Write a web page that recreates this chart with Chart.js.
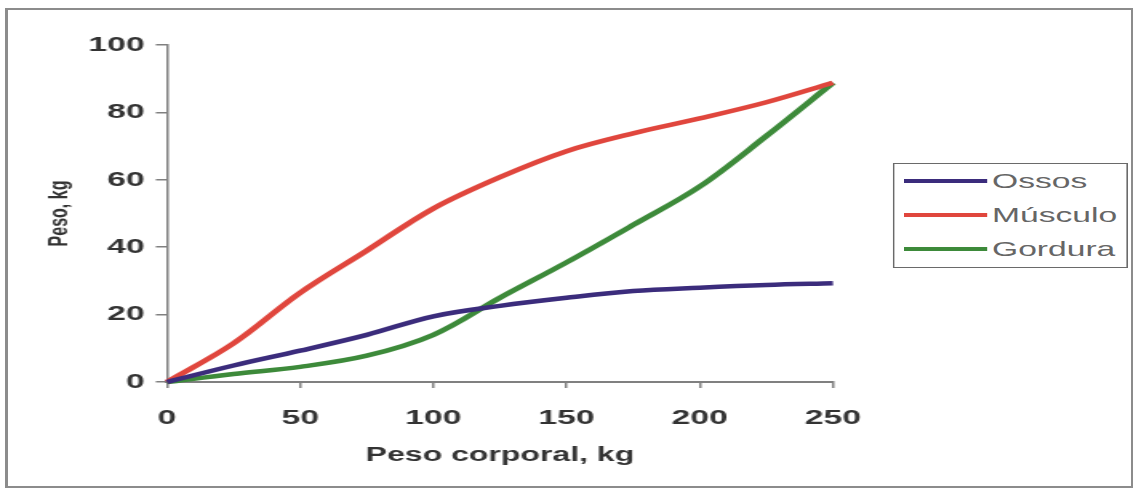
<!DOCTYPE html>
<html lang="pt">
<head>
    <meta charset="utf-8">
    <title>Peso corporal - Ossos, Músculo, Gordura</title>
    <style>
      * {
        margin: 0;
        padding: 0;
      }
      body {
        width: 1135px;
        height: 491px;
        background: #fff;
        overflow: hidden;
        position: relative;
        font-family: "Liberation Sans", Arial, sans-serif;
      }
      .frame {
        position: absolute;
        left: 5px;
        top: 8px;
        width: 1128px;
        height: 480px;
        box-sizing: border-box;
        border: 2px solid #8c8c8c;
        border-left-width: 3px;
      }
      /* the original picture is stretched sideways, so the whole chart is too */
      .stretch {
        position: absolute;
        left: 0;
        top: 0;
        width: 709.375px;
        height: 491px;
        transform: scaleX(1.6);
        transform-origin: 0 0;
      }
      .chartBox {
        position: absolute;
        left: 0;
        top: 0;
        width: 709.375px;
        height: 491px;
      }
      .legend {
        position: absolute;
        left: 558px;
        top: 163px;
        width: 147px;
        height: 105px;
        box-sizing: border-box;
        border: 1.5px solid #6a6a6a;
        background: #fff;
      }
      .legend .row {
        height: 34px;
        display: flex;
        align-items: center;
      }
      .legend .line {
        width: 52px;
        height: 4px;
        margin-left: 6px;
        margin-right: 3px;
      }
      .legend .txt {
        font-size: 21px;
        color: #666;
      }
    </style>
</head>
<body>
    <div class="frame"></div>
    <div class="stretch">
      <div class="chartBox">
        <canvas id="pesoChart"></canvas>
      </div>
      <div class="legend" id="legend"></div>
    </div>
    <script src="https://cdn.jsdelivr.net/npm/chart.js/dist/chart.umd.min.js"></script>
    <script>
        // values (kg)
        const pesoCorporal = [0, 25, 50, 75, 100, 125, 150, 175, 200, 225, 250];
        const ossos   = [0, 4.9, 9.3, 14.0, 19.5, 22.6, 25.0, 27.0, 28.0, 28.8, 29.3];
        const musculo = [0, 11.5, 26.5, 39, 51.5, 60.8, 68.5, 73.8, 78.2, 83.0, 88.8];
        const gordura = [0, 2.4, 4.5, 7.8, 14.0, 25.0, 35.5, 46.6, 58.0, 73.0, 88.8];
        const yTicks = [0, 20, 40, 60, 80, 100];
        const xTicks = [0, 50, 100, 150, 200, 250];

        const seriesLabels = ['Ossos', 'Músculo', 'Gordura'];
        const seriesValues = [ossos, musculo, gordura];
        const seriesColors = ['#3b2c7c', '#e0463d', '#3d8a3a'];

        const tickColor = '#333';
        const axisColor = '#808080';

        const datasets = seriesLabels.map((label, i) => ({
            label: label,
            data: pesoCorporal.map((x, j) => ({ x: x, y: seriesValues[i][j] })),
            borderColor: seriesColors[i],
            backgroundColor: seriesColors[i],
            borderWidth: 4.5,
            pointRadius: 0,
            tension: 0.35,
            clip: false
        }));

        new Chart(document.getElementById('pesoChart'), {
            type: 'line',
            data: { datasets: datasets },
            options: {
                responsive: true,
                maintainAspectRatio: false,
                animation: false,
                layout: {
                    padding: { left: 0, top: 45, right: 188.8, bottom: 0 }
                },
                plugins: {
                    legend: { display: false },
                    tooltip: { enabled: false }
                },
                scales: {
                    x: {
                        type: 'linear',
                        min: xTicks[0],
                        max: xTicks[xTicks.length - 1],
                        afterBuildTicks: s => { s.ticks = xTicks.map(v => ({ value: v })); },
                        afterFit: s => { s.height = 109; },
                        ticks: {
                            color: tickColor,
                            font: { family: 'Liberation Sans', size: 21, weight: 'bold' },
                            padding: 18
                        },
                        grid: {
                            drawOnChartArea: false,
                            tickLength: 6,
                            color: axisColor,
                            lineWidth: 1.5
                        },
                        border: { color: axisColor, width: 2 },
                        title: {
                            display: true,
                            text: 'Peso corporal, kg',
                            color: tickColor,
                            font: { family: 'Liberation Sans', size: 20, weight: 'bold' },
                            padding: { top: 0, bottom: 24 }
                        }
                    },
                    y: {
                        min: yTicks[0],
                        max: yTicks[yTicks.length - 1],
                        afterBuildTicks: s => { s.ticks = yTicks.map(v => ({ value: v })); },
                        afterFit: s => { s.width = 104.4; },
                        ticks: {
                            color: tickColor,
                            font: { family: 'Liberation Sans', size: 21, weight: 'bold' },
                            padding: 7
                        },
                        grid: {
                            drawOnChartArea: false,
                            tickLength: 7,
                            color: axisColor,
                            lineWidth: 1.5
                        },
                        border: { color: axisColor, width: 1.5 },
                        title: {
                            display: true,
                            text: 'Peso, kg',
                            color: tickColor,
                            font: { family: 'Liberation Sans', size: 16, weight: 'bold' },
                            padding: { top: 28, bottom: 0 }
                        }
                    }
                }
            }
        });

        // legend box on the right, built from the same series arrays
        const legendBox = document.getElementById('legend');
        seriesLabels.forEach((label, i) => {
            const row = document.createElement('div');
            row.className = 'row';
            const line = document.createElement('span');
            line.className = 'line';
            line.style.background = seriesColors[i];
            const txt = document.createElement('span');
            txt.className = 'txt';
            txt.textContent = label;
            row.appendChild(line);
            row.appendChild(txt);
            legendBox.appendChild(row);
        });
    </script>
</body>
</html>
